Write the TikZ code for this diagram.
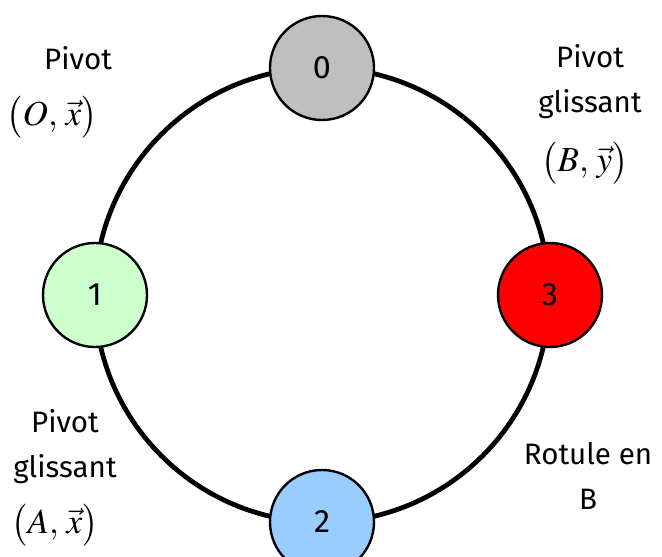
\documentclass[tikz,border=0pt]{standalone}
\usepackage{amsmath}
\usepackage{mathptmx}
\usepackage{fontspec}
\setmainfont{Fira Sans}
\usepackage{tikz}
\usetikzlibrary{positioning}
\definecolor{grey}{HTML}{BFBFBF}
\definecolor{green}{HTML}{CCFFCC}
\definecolor{blue}{HTML}{99CCFF}
\definecolor{red}{HTML}{FF0000}

\begin{document}
\begin{tikzpicture}[x=0.025cm,y=-0.025cm,
  solid/.style={circle,draw=black,line width=1.7pt,minimum size=2.6cm,inner sep=0pt,font=\fontsize{23}{27}\selectfont},
  liaison/.style={align=center,inner sep=0pt,font=\fontsize{21}{32}\selectfont},
  repere/.style={inner sep=0pt,font=\fontsize{25}{30}\selectfont}]
\useasboundingbox (0,0) rectangle (662,557);
\coordinate (ctr) at (322,295);
\draw[line width=3.4pt] (ctr) circle[radius=5.68cm];
\node[solid,fill=grey] (s0) at (322,68) {0};
\node[solid,fill=green] (s1) at (95,295) {1};
\node[solid,fill=blue] (s2) at (322,522) {2};
\node[solid,fill=red] (s3) at (550,295) {3};
\node[liaison,anchor=north] (l01) at (78,46) {Pivot};
\node[repere] (l01m) at (52,117) {$\bigl(O,\,\vec{x}\bigr)$};
\node[liaison,anchor=north] (l03) at (590,44) {Pivot\\glissant};
\node[repere] (l03m) at (585,163) {$\bigl(B,\,\vec{y}\bigr)$};
\node[liaison,anchor=north] (l12) at (65,409) {Pivot\\glissant};
\node[repere] (l12m) at (55,525) {$\bigl(A,\,\vec{x}\bigr)$};
\node[liaison,anchor=north] (l23) at (588,442) {Rotule en\\B};
\end{tikzpicture}
\end{document}
